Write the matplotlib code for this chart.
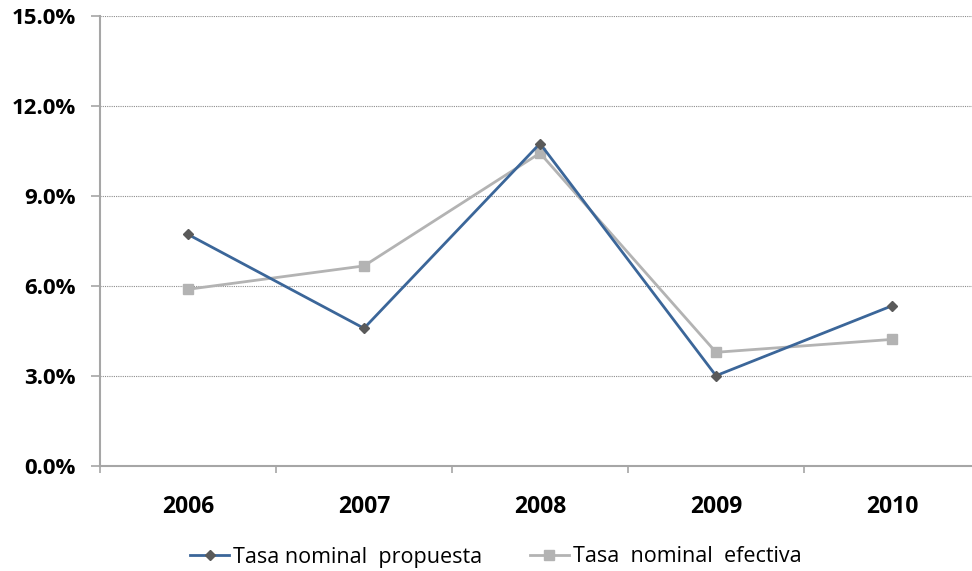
import matplotlib
matplotlib.use("Agg")
import matplotlib.pyplot as plt
from matplotlib.ticker import FuncFormatter, FixedLocator

years = ["2006", "2007", "2008", "2009", "2010"]
propuesta = [7.72, 4.59, 10.75, 3.01, 5.34]
efectiva = [5.89, 6.67, 10.43, 3.79, 4.22]
yticks = [0, 3, 6, 9, 12, 15]

W, H = 972, 571
fig = plt.figure(figsize=(W / 100, H / 100), dpi=100)
# axes: left 100px, right beyond figure (980px), top 16px, bottom 466px
ax = fig.add_axes([100 / W, 1 - 466 / H, 880 / W, 450 / H])

x = list(range(len(years)))
ax.plot(x, propuesta, color="#3B6699", lw=2.0, marker="D", ms=5.5,
        mfc="#5A5A5A", mec="#5A5A5A", label="Tasa nominal  propuesta", zorder=3)
ax.plot(x, efectiva, color="#B3B3B3", lw=2.0, marker="s", ms=7,
        mfc="#B3B3B3", mec="#B3B3B3", label="Tasa  nominal  efectiva", zorder=2)

ax.set_xlim(-0.5, len(years) - 0.5)
ax.set_ylim(0, 15)
ax.set_yticks(yticks)
ax.yaxis.set_major_formatter(FuncFormatter(lambda v, p: f"{v:.1f}%"))
ax.set_xticks(x)
ax.set_xticklabels(years)
ax.xaxis.set_minor_locator(FixedLocator([i - 0.5 for i in range(len(years) + 1)]))
ax.tick_params(axis="x", which="major", length=0, pad=21)
ax.tick_params(axis="x", which="minor", length=5, width=1.2, color="#A6A6A6", direction="out")
ax.tick_params(axis="y", length=6.5, width=1.2, color="#A6A6A6", pad=11)

for lab in ax.get_yticklabels():
    lab.set_fontweight("bold")
    lab.set_fontsize(16)
    lab.set_fontfamily("Open Sans")
for lab in ax.get_xticklabels():
    lab.set_fontweight("bold")
    lab.set_fontsize(16.5)
    lab.set_fontfamily("Open Sans")

ax.grid(axis="y", linestyle=(0, (1, 1)), color="#8C8C8C", lw=0.8)
ax.set_axisbelow(True)
for s in ["top", "right"]:
    ax.spines[s].set_visible(False)
for s in ["left", "bottom"]:
    ax.spines[s].set_color("#A6A6A6")
    ax.spines[s].set_linewidth(1.5)

leg = fig.legend(loc="center", bbox_to_anchor=(496 / W, 1 - 557 / H), ncol=2,
                 frameon=False, handlelength=1.8, columnspacing=2.2, handletextpad=0.2,
                 prop={"family": "Open Sans", "size": 15.5})

fig.savefig("out.png", dpi=100)
